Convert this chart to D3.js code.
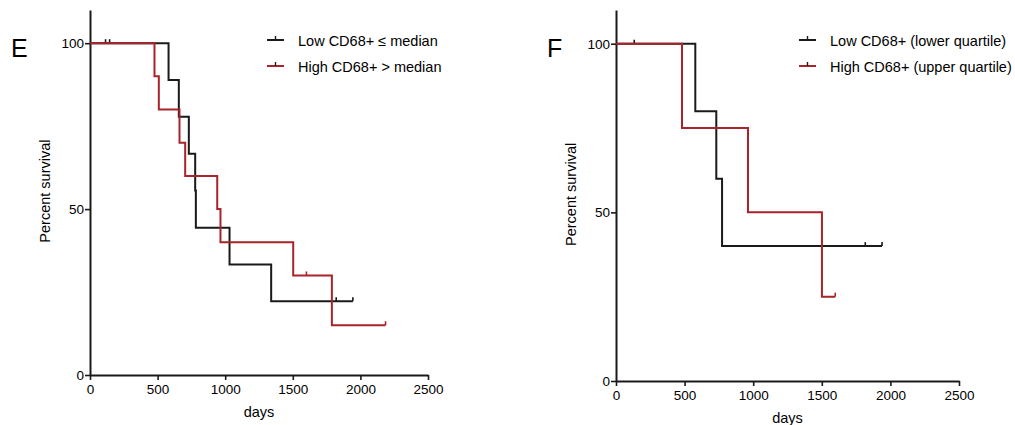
<!DOCTYPE html>
<html>
<head>
<meta charset="utf-8">
<style>
  body { margin: 0; background: #fff; }
  svg text { font-family: "Liberation Sans", Arial, sans-serif; fill: #000; }
</style>
</head>
<body>
<svg width="1015" height="425"></svg>
<script src="https://d3js.org/d3.v7.min.js"></script>
<script>
// Panel E: steps as [day, percent surviving after the event]
var lowMedianSteps = [[0, 100], [581, 88.9], [657, 77.8], [731, 66.7], [778, 55.6], [783, 44.4], [1032, 33.3], [1340, 22.2], [1944, 22.2]];
var lowMedianCensor = [115, 145, 1821, 1944];
var highMedianSteps = [[0, 100], [477, 90], [509, 80], [662, 70], [704, 60], [941, 50], [965, 40], [1503, 30], [1789, 15], [2186, 15]];
var highMedianCensor = [1601, 2186];

// Panel F
var lowQuartSteps = [[0, 100], [578, 80], [731, 60], [773, 40], [1939, 40]];
var lowQuartCensor = [133, 1817, 1939];
var highQuartSteps = [[0, 100], [481, 75], [962, 50], [1501, 25], [1598, 25]];
var highQuartCensor = [1598];

var xTicks = [0, 500, 1000, 1500, 2000, 2500];
var yTicks = [0, 50, 100];

var BLACK = "#1a1a1a", RED = "#a8232a";

var svg = d3.select("svg");

var panels = [
  { letter: "E", lx: 11, left: 90, right: 428, top: 10, bottom: 375,
    legendX: 267, legendText: 298,
    series: [
      { name: "Low CD68+ \u2264 median", steps: lowMedianSteps, censor: lowMedianCensor, color: BLACK },
      { name: "High CD68+ > median", steps: highMedianSteps, censor: highMedianCensor, color: RED }
    ] },
  { letter: "F", lx: 547, left: 616, right: 959, top: 10, bottom: 381,
    legendX: 799, legendText: 830,
    series: [
      { name: "Low CD68+ (lower quartile)", steps: lowQuartSteps, censor: lowQuartCensor, color: BLACK },
      { name: "High CD68+ (upper quartile)", steps: highQuartSteps, censor: highQuartCensor, color: RED }
    ] }
];

// survival value at time t
function survAt(steps, t) {
  var s = 100;
  steps.forEach(function(d) { if (d[0] <= t) s = d[1]; });
  return s;
}

panels.forEach(function(p) {
  var x = d3.scaleLinear().domain([0, 2500]).range([p.left, p.right]);
  var y = d3.scaleLinear().domain([0, 110]).range([p.bottom, p.top]);
  var g = svg.append("g");

  // panel letter
  g.append("text").attr("x", p.lx).attr("y", 57)
    .attr("font-size", 25).text(p.letter);

  // axes
  var xa = g.append("g").attr("transform", "translate(0," + p.bottom + ")")
    .call(d3.axisBottom(x).tickValues(xTicks).tickFormat(d3.format("d"))
      .tickSize(5).tickSizeOuter(0).tickPadding(4));
  var ya = g.append("g").attr("transform", "translate(" + p.left + ",0)")
    .call(d3.axisLeft(y).tickValues(yTicks).tickFormat(d3.format("d"))
      .tickSize(5).tickSizeOuter(0).tickPadding(1));
  [xa, ya].forEach(function(a) {
    a.select(".domain").attr("stroke", BLACK).attr("stroke-width", 2);
    a.selectAll(".tick line").attr("stroke", BLACK).attr("stroke-width", 1.6);
    a.selectAll(".tick text").attr("font-size", 13.5).attr("fill", "#000")
      .style("font-family", "Liberation Sans, Arial, sans-serif");
  });

  g.append("text").attr("x", (p.left + p.right) / 2).attr("y", p.bottom + 41.5)
    .attr("text-anchor", "middle").attr("font-size", 14.5).text("days");
  g.append("text")
    .attr("transform", "translate(" + (p.left - 40) + "," + (y(50) - 18) + ") rotate(-90)")
    .attr("text-anchor", "middle").attr("font-size", 14.5).text("Percent survival");

  var line = d3.line().curve(d3.curveStepAfter)
    .x(function(d) { return x(d[0]); })
    .y(function(d) { return y(d[1]); });

  p.series.forEach(function(s, i) {
    g.append("path").datum(s.steps)
      .attr("fill", "none").attr("stroke", s.color).attr("stroke-width", 2)
      .attr("d", line);
    g.selectAll(null).data(s.censor).enter().append("line")
      .attr("x1", function(d) { return x(d); })
      .attr("x2", function(d) { return x(d); })
      .attr("y1", function(d) { return y(survAt(s.steps, d)); })
      .attr("y2", function(d) { return y(survAt(s.steps, d)) - 4; })
      .attr("stroke", s.color).attr("stroke-width", 1.6);

    // legend
    var ly = 40 + i * 26;
    g.append("line").attr("x1", p.legendX).attr("x2", p.legendX + 17)
      .attr("y1", ly).attr("y2", ly).attr("stroke", s.color).attr("stroke-width", 2);
    g.append("line").attr("x1", p.legendX + 8.5).attr("x2", p.legendX + 8.5)
      .attr("y1", ly).attr("y2", ly - 4).attr("stroke", BLACK).attr("stroke-width", 1.4);
    g.append("text").attr("x", p.legendText).attr("y", ly + 5.5)
      .attr("font-size", 14.5).text(s.name);
  });
});
</script>
</body>
</html>
